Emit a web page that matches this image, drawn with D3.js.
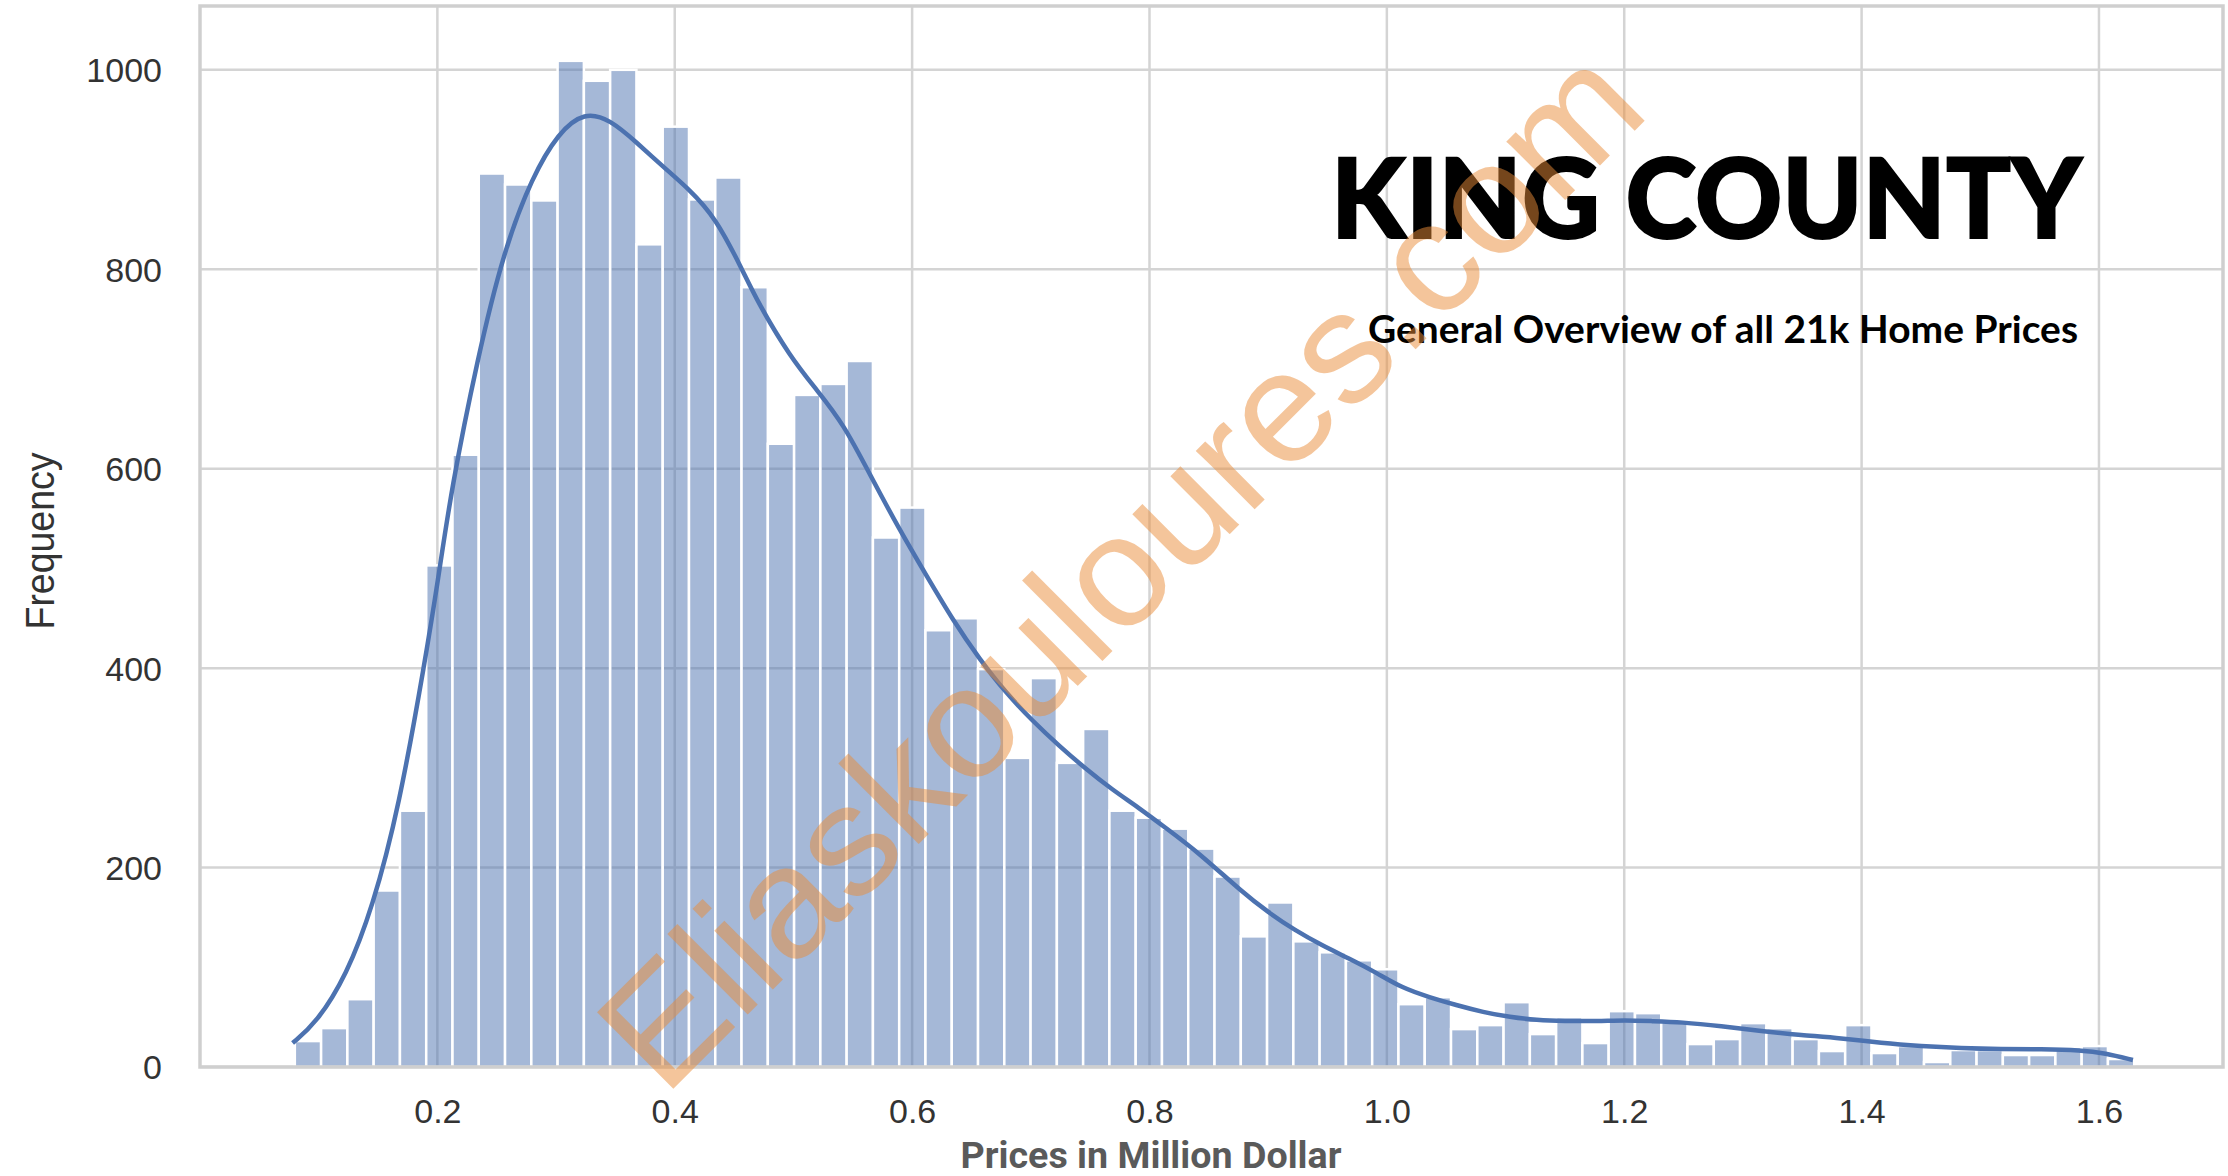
<!DOCTYPE html>
<html>
<head>
<meta charset="utf-8">
<script src="https://cdn.jsdelivr.net/npm/d3@7"></script>
<style>
  html, body { margin: 0; padding: 0; background: #fff; }
  svg { display: block; }
</style>
</head>
<body>
<svg id="chart" width="2228" height="1176"></svg>
<script>
// histogram: 70 bins, price in million dollar
const binStart = 0.0799;
const binWidth = 0.02214;
const counts = [
  26, 39, 68, 177, 257, 503, 614, 896, 885, 869,
  1009, 989, 1000, 825, 943, 870, 892, 782, 625, 674,
  685, 708, 531, 561, 438, 450, 399, 310, 390, 305,
  339, 257, 250, 239, 219, 191, 131, 165, 126, 115,
  107, 98, 63, 70, 38, 42, 65, 33, 50, 24,
  56, 54, 47, 23, 28, 44, 39, 28, 16, 42,
  14, 21, 5, 17, 17, 12, 12, 20, 21, 8
];

// kde curve
const kdeX = [0.078, 0.098, 0.1235, 0.1454, 0.1676, 0.1896, 0.2008, 0.2118, 0.2337, 0.2557,
  0.28, 0.302, 0.324, 0.3457, 0.368, 0.39, 0.4124, 0.4343, 0.4568, 0.4694,
  0.4973, 0.5197, 0.5421, 0.5645, 0.5897, 0.612, 0.6344, 0.6568, 0.6792, 0.7015,
  0.7239, 0.7463, 0.7687, 0.791, 0.8134, 0.8414, 0.8775, 0.9001, 0.9227, 0.9453,
  0.968, 0.9906, 1.0132, 1.0359, 1.0585, 1.0811, 1.1037, 1.1263, 1.149, 1.178,
  1.2006, 1.2233, 1.248, 1.2818, 1.3155, 1.3492, 1.3828, 1.4165, 1.4502, 1.4838,
  1.5175, 1.5512, 1.5848, 1.605, 1.6286];
const kdeY = [24, 44, 92, 160, 260, 407, 490, 580, 710, 818,
  893, 937, 958, 950, 927, 903, 880, 852, 800, 768,
  712, 679, 645, 594, 538, 493, 448, 409, 375, 347,
  322, 299, 278, 260, 240, 215, 176, 155, 137, 122,
  109, 95, 79, 70, 62, 55, 50, 47, 46, 46,
  47, 46, 45, 41, 36, 32, 29, 24, 21, 19,
  18, 18, 17, 14, 7];

const xTicks = [0.2, 0.4, 0.6, 0.8, 1.0, 1.2, 1.4, 1.6];
const yTicks = [0, 200, 400, 600, 800, 1000];

const title = "KING COUNTY";
const subtitle = "General Overview of all 21k Home Prices";
const xLabel = "Prices in Million Dollar";
const yLabel = "Frequency";
const watermark = "Eliaskouloures.com";

const bins = counts.map((c, i) => ({
  x0: binStart + i * binWidth,
  x1: binStart + (i + 1) * binWidth,
  count: c
}));

const svg = d3.select("#chart");
const plotLeft = 200, plotRight = 2223, plotTop = 6, plotBottom = 1067;

const x = d3.scaleLinear().domain([0, 1.7045]).range([plotLeft, plotRight]);
const y = d3.scaleLinear().domain([0, 1064]).range([plotBottom, plotTop]);

const gridColor = "#d4d4d4";
const blue = "#4c72b0";

svg.append("rect").attr("width", 2228).attr("height", 1176).attr("fill", "#fff");

// grid lines
svg.append("g")
  .selectAll("line")
  .data(xTicks)
  .enter().append("line")
  .attr("x1", d => x(d)).attr("x2", d => x(d))
  .attr("y1", plotTop).attr("y2", plotBottom)
  .attr("stroke", gridColor).attr("stroke-width", 2.5);

svg.append("g")
  .selectAll("line")
  .data(yTicks)
  .enter().append("line")
  .attr("x1", plotLeft).attr("x2", plotRight)
  .attr("y1", d => y(d)).attr("y2", d => y(d))
  .attr("stroke", gridColor).attr("stroke-width", 2.5);

// bars
svg.append("g")
  .selectAll("rect")
  .data(bins)
  .enter().append("rect")
  .attr("x", d => x(d.x0))
  .attr("y", d => y(d.count))
  .attr("width", d => x(d.x1) - x(d.x0))
  .attr("height", d => y(0) - y(d.count))
  .attr("fill", blue)
  .attr("fill-opacity", 0.5)
  .attr("stroke", "#fff")
  .attr("stroke-width", 2.5);

// kde line
const line = d3.line()
  .x(d => x(d[0]))
  .y(d => y(d[1]))
  .curve(d3.curveBasis);

svg.append("path")
  .datum(kdeX.map((v, i) => [v, kdeY[i]]))
  .attr("d", line)
  .attr("fill", "none")
  .attr("stroke", blue)
  .attr("stroke-width", 4.5);

// frame
svg.append("rect")
  .attr("x", plotLeft).attr("y", plotTop)
  .attr("width", plotRight - plotLeft).attr("height", plotBottom - plotTop)
  .attr("fill", "none")
  .attr("stroke", "#cfcfcf")
  .attr("stroke-width", 3.5);

// tick labels
const tickFont = "'Liberation Sans', Arial, Helvetica, sans-serif";

const xAxis = svg.append("g")
  .attr("transform", `translate(0,${plotBottom})`)
  .call(d3.axisBottom(x).tickValues(xTicks).tickFormat(d3.format(".1f")).tickSize(0).tickPadding(0));
xAxis.select(".domain").remove();
xAxis.selectAll("text")
  .attr("y", 56)
  .attr("dy", 0)
  .attr("font-family", tickFont)
  .attr("font-size", 34)
  .attr("fill", "#333");

const yAxis = svg.append("g")
  .attr("transform", `translate(${plotLeft},0)`)
  .call(d3.axisLeft(y).tickValues(yTicks).tickFormat(d3.format("d")).tickSize(0).tickPadding(0));
yAxis.select(".domain").remove();
yAxis.selectAll("text")
  .attr("x", -38)
  .attr("dy", "0.35em")
  .attr("font-family", tickFont)
  .attr("font-size", 34)
  .attr("fill", "#333");

// axis labels
svg.append("text")
  .attr("transform", "translate(54,541) rotate(-90)")
  .attr("text-anchor", "middle")
  .attr("font-family", tickFont)
  .attr("font-size", 40)
  .attr("fill", "#333")
  .attr("textLength", 177)
  .attr("lengthAdjust", "spacingAndGlyphs")
  .text(yLabel);

svg.append("text")
  .attr("x", 1151)
  .attr("y", 1168)
  .attr("text-anchor", "middle")
  .attr("font-family", "Roboto, 'Open Sans', sans-serif")
  .attr("font-weight", 700)
  .attr("font-size", 36)
  .attr("fill", "#5a5a5a")
  .attr("textLength", 381)
  .attr("lengthAdjust", "spacingAndGlyphs")
  .text(xLabel);

// title block
svg.append("text")
  .attr("x", 1331)
  .attr("y", 238)
  .attr("font-family", "Lato, 'Open Sans', sans-serif")
  .attr("font-weight", 900)
  .attr("font-size", 111)
  .attr("fill", "#000")
  .attr("stroke", "#000")
  .attr("stroke-width", 2)
  .attr("textLength", 751)
  .attr("lengthAdjust", "spacingAndGlyphs")
  .text(title);

svg.append("text")
  .attr("x", 1368)
  .attr("y", 343)
  .attr("font-family", "Lato, 'Open Sans', sans-serif")
  .attr("font-weight", 700)
  .attr("font-size", 38)
  .attr("fill", "#000")
  .attr("textLength", 710)
  .attr("lengthAdjust", "spacingAndGlyphs")
  .text(subtitle);

// watermark on top
svg.append("text")
  .attr("transform", "translate(664,1098) rotate(-44.9)")
  .attr("font-family", tickFont)
  .attr("font-size", 157)
  .attr("fill", "#e98b37")
  .attr("fill-opacity", 0.5)
  .attr("textLength", 1395)
  .attr("lengthAdjust", "spacingAndGlyphs")
  .text(watermark);
</script>
</body>
</html>
